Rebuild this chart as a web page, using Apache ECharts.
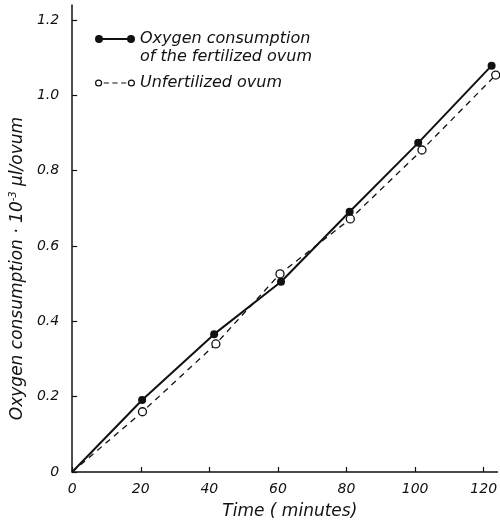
<!DOCTYPE html>
<html>
<head>
<meta charset="utf-8">
<script src="https://cdn.jsdelivr.net/npm/echarts@6/dist/echarts.min.js"></script>
<style>
html, body { margin: 0; padding: 0; background: #fff; }
#chart { width: 500px; height: 526px; }
</style>
</head>
<body>
<div id="chart"></div>
<script>
// values (minutes, 10^-3 ul/ovum)
var fertTime = [0, 20.4, 41.4, 60.9, 80.9, 100.9, 122.3];
var fertValue = [0, 0.191, 0.366, 0.505, 0.691, 0.874, 1.079];
var unfertTime = [0, 20.5, 41.9, 60.6, 81.1, 102.0, 123.5];
var unfertValue = [0, 0.160, 0.340, 0.526, 0.672, 0.855, 1.054];
var xTicks = [0, 20, 40, 60, 80, 100, 120];
var yTicks = [0, 0.2, 0.4, 0.6, 0.8, 1.0, 1.2];

function pairs(xs, ys) {
    return xs.map(function(x, i) {
        if (i === 0) return { value: [x, ys[i]], symbol: 'none' };
        return [x, ys[i]];
    });
}

// legend icons: marker - line - marker, as in the original key
var iconFilled = 'path://M0 5A4 4 0 0 1 8 5A4 4 0 0 1 0 5Z' +
    'M32 5A4 4 0 0 1 40 5A4 4 0 0 1 32 5Z' +
    'M7 4L33 4L33 6L7 6Z';
var iconOpen = 'path://M0.5 5A3.5 3.5 0 1 0 7.5 5A3.5 3.5 0 1 0 0.5 5Z' +
    'M1.7 5A2.3 2.3 0 1 1 6.3 5A2.3 2.3 0 1 1 1.7 5Z' +
    'M32.5 5A3.5 3.5 0 1 0 39.5 5A3.5 3.5 0 1 0 32.5 5Z' +
    'M33.7 5A2.3 2.3 0 1 1 38.3 5A2.3 2.3 0 1 1 33.7 5Z' +
    'M9 4.4L14 4.4L14 5.6L9 5.6Z' +
    'M17.5 4.4L22.5 4.4L22.5 5.6L17.5 5.6Z' +
    'M26 4.4L31 4.4L31 5.6L26 5.6Z';

var font = 'DejaVu Sans';
var chart = echarts.init(document.getElementById('chart'));
var option = {
    backgroundColor: '#fff',
    animation: false,
    grid: {
        left: 70,
        right: 1,
        top: 5,
        bottom: 54
    },
    legend: {
        left: 90,
        top: 26,
        orient: 'vertical',
        itemWidth: 40,
        itemHeight: 10,
        itemGap: 28,
        textStyle: {
            fontFamily: font,
            fontStyle: 'italic',
            fontSize: 16,
            color: '#111'
        },
        data: [
            { name: 'Oxygen consumption', icon: iconFilled, itemStyle: { color: '#111', borderWidth: 0 } },
            { name: 'Unfertilized ovum', icon: iconOpen, itemStyle: { color: '#111', borderWidth: 0 } }
        ]
    },
    graphic: [{
        type: 'text',
        left: 140,
        top: 49,
        style: {
            text: 'of the fertilized ovum',
            fontFamily: font,
            fontStyle: 'italic',
            fontSize: 16,
            fill: '#111'
        }
    }],
    xAxis: {
        type: 'value',
        min: 0,
        max: 124,
        name: 'Time ( minutes)',
        nameLocation: 'middle',
        nameGap: 31,
        nameTextStyle: {
            fontFamily: font,
            fontStyle: 'italic',
            fontSize: 17,
            color: '#111',
            padding: [0, 0, 0, 10]
        },
        axisLine: { lineStyle: { color: '#111', width: 1.5 } },
        axisTick: {
            inside: true,
            length: 5,
            customValues: xTicks,
            lineStyle: { color: '#111', width: 1.2 }
        },
        axisLabel: {
            customValues: xTicks,
            fontFamily: font,
            fontStyle: 'italic',
            fontSize: 14,
            color: '#111',
            margin: 10
        },
        splitLine: { show: false }
    },
    yAxis: {
        type: 'value',
        min: 0,
        max: 1.24,
        name: '{a|Oxygen consumption · 10}{s|-3}{a| μl/ovum}',
        nameLocation: 'middle',
        nameGap: 44,
        nameTextStyle: {
            padding: [0, 60, 0, 0],
            rich: {
                a: { fontFamily: font, fontStyle: 'italic', fontSize: 17, color: '#111' },
                s: { fontFamily: font, fontStyle: 'italic', fontSize: 10, color: '#111', verticalAlign: 'top', padding: [0, 0, 9, 0] }
            }
        },
        axisLine: { show: true, lineStyle: { color: '#111', width: 1.5 } },
        axisTick: {
            show: true,
            inside: true,
            length: 5,
            customValues: yTicks,
            lineStyle: { color: '#111', width: 1.2 }
        },
        axisLabel: {
            customValues: yTicks,
            fontFamily: font,
            fontStyle: 'italic',
            fontSize: 14,
            color: '#111',
            margin: 13,
            formatter: function(v) {
                return v === 0 ? '0' : v.toFixed(1);
            }
        },
        splitLine: { show: false }
    },
    series: [{
        name: 'Oxygen consumption',
        type: 'line',
        data: pairs(fertTime, fertValue),
        symbol: 'circle',
        symbolSize: 8,
        itemStyle: { color: '#111' },
        lineStyle: { color: '#111', width: 2 },
        z: 3
    }, {
        name: 'Unfertilized ovum',
        type: 'line',
        data: pairs(unfertTime, unfertValue),
        symbol: 'circle',
        symbolSize: 8,
        itemStyle: { color: '#fff', borderColor: '#111', borderWidth: 1.3 },
        lineStyle: { color: '#111', width: 1.3, type: [6, 5] },
        z: 2
    }]
};
chart.setOption(option);
</script>
</body>
</html>
